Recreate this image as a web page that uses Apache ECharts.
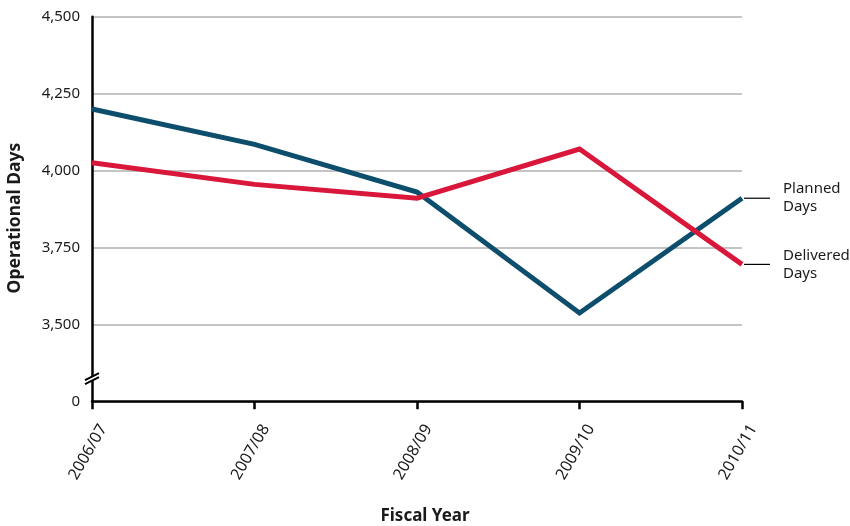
<!DOCTYPE html>
<html>
<head>
<meta charset="utf-8">
<script src="https://cdn.jsdelivr.net/npm/echarts@6/dist/echarts.min.js"></script>
<style>
  html, body { margin: 0; padding: 0; background: #fff; }
  #chart { width: 850px; height: 526px; }
</style>
</head>
<body>
<div id="chart"></div>
<script>
// Fiscal years on the category axis
const fiscalYears = ['2006/07', '2007/08', '2008/09', '2009/10', '2010/11'];

// Operational days per fiscal year
const plannedDays = [4200, 4085, 3930, 3537, 3910];
const deliveredDays = [4025, 3955, 3910, 4070, 3695];

// Value axis: the bottom of the broken axis stands for zero
const axisFloor = 3250;
const axisCeiling = 4500;
const axisStep = 250;

const seriesNames = ['Planned\nDays', 'Delivered\nDays'];
const seriesColors = ['#0c4e6c', '#d9173b'];

const FONT = '"Noto Sans", "Open Sans", sans-serif';

const chart = echarts.init(document.getElementById('chart'), null, { renderer: 'canvas' });

function tickLabel(v) {
  if (v === axisFloor) return '0';
  return v.toLocaleString('en-US');
}

chart.setOption({
  animation: false,
  backgroundColor: '#ffffff',
  grid: { left: 92, right: 108, top: 16.7, bottom: 124.7, containLabel: false, outerBoundsMode: 'none' },
  xAxis: {
    type: 'category',
    data: fiscalYears,
    boundaryGap: false,
    name: 'Fiscal Year',
    nameLocation: 'middle',
    nameGap: 106,
    nameTextStyle: { fontFamily: FONT, fontSize: 17, fontWeight: 'bold', color: '#1a1a1a', padding: [0, 0, 0, 16] },
    axisLine: { onZero: false, lineStyle: { color: '#000', width: 2.5 } },
    axisTick: { show: true, alignWithLabel: true, length: 8, lineStyle: { color: '#000', width: 2.5 } },
    axisLabel: {
      rotate: 60,
      margin: 18,
      // a blank spacer line above each year nudges the slanted text off the tick
      formatter: (v) => '{gap| }\n{yr|' + v + '}',
      rich: {
        gap: { fontSize: 1, lineHeight: 26 },
        yr: { fontFamily: FONT, fontSize: 16, lineHeight: 20, color: '#1a1a1a' }
      }
    },
    splitLine: { show: false }
  },
  yAxis: {
    type: 'value',
    min: axisFloor,
    max: axisCeiling,
    interval: axisStep,
    name: 'Operational Days',
    nameLocation: 'middle',
    nameGap: 68,
    nameTextStyle: { fontFamily: FONT, fontSize: 17.5, fontWeight: 'bold', color: '#1a1a1a', padding: [0, 18, 0, 0] },
    axisLine: { show: true, lineStyle: { color: '#000', width: 2.5 } },
    axisTick: { show: false },
    axisLabel: { margin: 12, fontFamily: FONT, fontSize: 15, color: '#1a1a1a', formatter: tickLabel },
    splitLine: { show: true, lineStyle: { color: '#c4c4c4', width: 2 } }
  },
  series: [
    {
      name: seriesNames[0],
      type: 'line',
      data: plannedDays,
      symbol: 'none',
      z: 3,
      lineStyle: { color: seriesColors[0], width: 5, join: 'miter' }
    },
    {
      name: seriesNames[1],
      type: 'line',
      data: deliveredDays,
      symbol: 'none',
      z: 4,
      lineStyle: { color: seriesColors[1], width: 5, join: 'miter' }
    }
  ]
});

// Leader lines, end-of-line captions and the axis-break mark
function drawDecorations() {
  const last = fiscalYears.length - 1;
  const elements = [];
  [plannedDays, deliveredDays].forEach((vals, i) => {
    const p = chart.convertToPixel({ gridIndex: 0 }, [last, vals[last]]);
    elements.push({
      type: 'line',
      shape: { x1: p[0] + 2, y1: p[1], x2: p[0] + 28, y2: p[1] },
      style: { stroke: '#000', lineWidth: 1.2 },
      z: 10
    });
    elements.push({
      type: 'text',
      x: p[0] + 41,
      y: p[1],
      style: {
        text: seriesNames[i],
        fontFamily: FONT,
        fontSize: 15,
        lineHeight: 18,
        fill: '#1a1a1a',
        verticalAlign: 'middle',
        align: 'left'
      },
      z: 10
    });
  });
  const b = chart.convertToPixel({ gridIndex: 0 }, [0, 3322]);
  elements.push({
    type: 'polygon',
    shape: { points: [[b[0] - 7, b[1] + 1], [b[0] + 7, b[1] - 6], [b[0] + 7, b[1] - 2], [b[0] - 7, b[1] + 5]] },
    style: { fill: '#fff' },
    z: 20
  });
  elements.push({
    type: 'line',
    shape: { x1: b[0] - 7, y1: b[1] + 1, x2: b[0] + 7, y2: b[1] - 6 },
    style: { stroke: '#000', lineWidth: 2 },
    z: 21
  });
  elements.push({
    type: 'line',
    shape: { x1: b[0] - 7, y1: b[1] + 5, x2: b[0] + 7, y2: b[1] - 2 },
    style: { stroke: '#000', lineWidth: 2 },
    z: 21
  });
  chart.setOption({ graphic: { elements: elements } });
}
drawDecorations();
</script>
</body>
</html>
